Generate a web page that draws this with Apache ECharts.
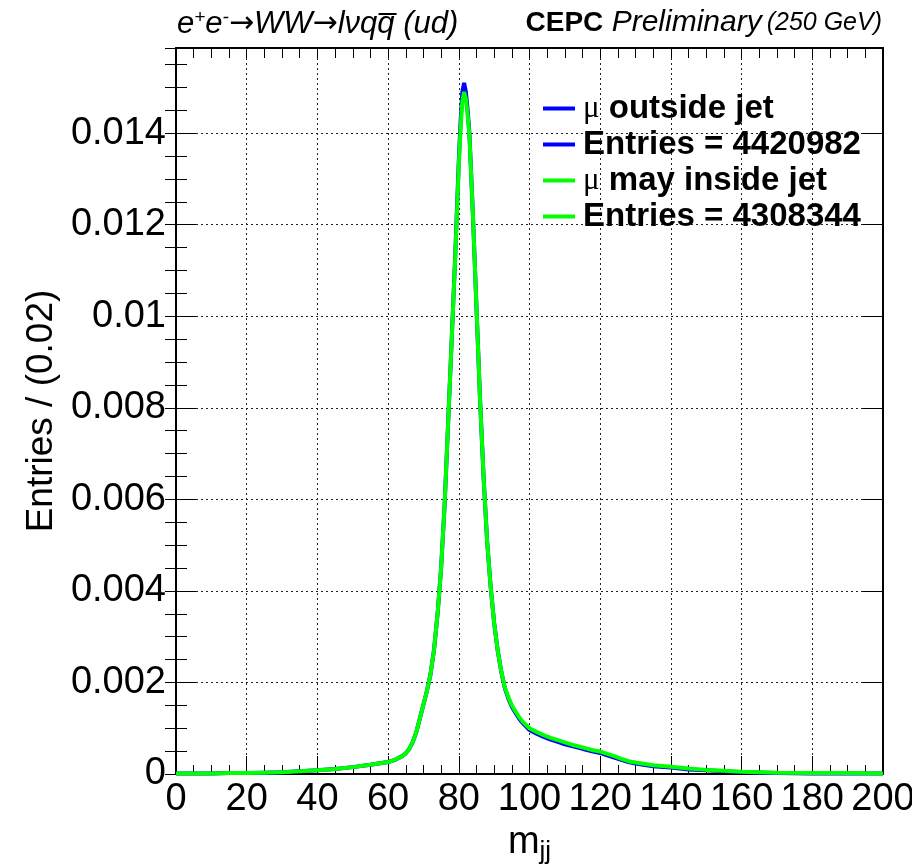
<!DOCTYPE html>
<html>
<head>
<meta charset="utf-8">
<script src="https://cdn.jsdelivr.net/npm/echarts@6/dist/echarts.min.js"></script>
<style>
html,body{margin:0;padding:0;background:#fff;}
#chart{width:912px;height:867px;}
</style>
</head>
<body>
<div id="chart"></div>
<script>
// m_jj bin positions (GeV)
var massX = [0,5,10,15,20,25,30,35,40,45,50,55,60,62,64,65,66,67,68,69,70,71,72,73,74,75,76,77,78,79,80,80.5,81,81.5,82,82.5,83,84,85,86,87,88,89,90,91,92,93,94,95,96,97,98,100,102,104,106,108,110,112,114,116,118,120,122,124,126,128,130,135,140,145,150,155,160,170,180,190,200];
// mu outside jet (blue)
var outsideJet = [0.00001,0.00001,0.00001,0.00002,0.00002,0.00003,0.00004,0.00006,0.00008,0.00011,0.00015,0.00020,0.00026,0.00031,0.00039,0.00045,0.00055,0.00070,0.00092,0.00122,0.00152,0.00182,0.00218,0.00272,0.00350,0.00450,0.00590,0.00770,0.00950,0.01135,0.01340,0.01425,0.01490,0.01510,0.01490,0.01450,0.01400,0.01220,0.01020,0.00820,0.00650,0.00510,0.00410,0.00330,0.00270,0.00224,0.00188,0.00165,0.00147,0.00134,0.00122,0.00112,0.00096,0.00088,0.00081,0.00075,0.00070,0.00065,0.00061,0.00057,0.00053,0.00049,0.00046,0.00041,0.00036,0.00031,0.00026,0.00023,0.00017,0.00014,0.00010,0.00008,0.00006,0.00004,0.00002,0.00001,0.00001,0.00001];
// mu may inside jet (green)
var mayInsideJet = [0.00001,0.00001,0.00001,0.00002,0.00002,0.00003,0.00004,0.00006,0.00008,0.00011,0.00015,0.00020,0.00026,0.00031,0.00039,0.00045,0.00055,0.00070,0.00092,0.00122,0.00152,0.00182,0.00218,0.00272,0.00350,0.00450,0.00590,0.00770,0.00950,0.01130,0.01330,0.01410,0.01470,0.01490,0.01475,0.01440,0.01395,0.01220,0.01020,0.00820,0.00650,0.00510,0.00410,0.00330,0.00270,0.00225,0.00190,0.00168,0.00150,0.00137,0.00125,0.00115,0.00100,0.00092,0.00085,0.00079,0.00074,0.00069,0.00064,0.00060,0.00056,0.00052,0.00049,0.00044,0.00039,0.00033,0.00028,0.00025,0.00019,0.00016,0.00012,0.00009,0.00007,0.00005,0.00003,0.00002,0.00002,0.00001];
var legendNames = ['\u03bc outside jet', 'Entries = 4420982', '\u03bc may inside jet', 'Entries = 4308344'];
var xTickValues = [0,20,40,60,80,100,120,140,160,180,200];
var yTickValues = [0,0.002,0.004,0.006,0.008,0.01,0.012,0.014];

var FONT = 'Liberation Sans';
var X_MIN = 0, X_MAX = 200, Y_MIN = 0, Y_MAX = 0.01586;

function pairs(xs, ys){ return xs.map(function(x,i){ return [x, ys[i]]; }); }
function yLabel(v){
  var r = Math.round(v / 0.002);
  if (Math.abs(v - r*0.002) > 1e-9) return '';
  return r === 0 ? '0' : String(+(r*0.002).toFixed(3));
}

var chart = echarts.init(document.getElementById('chart'), null, {renderer:'canvas'});

var baseY = function(extra){
  return Object.assign({
    type:'value', min:Y_MIN, max:Y_MAX, gridIndex:0,
    axisLine:{show:false}, axisLabel:{show:false}, splitLine:{show:false},
    axisTick:{show:true, inside:true, length:11, lineStyle:{color:'#000', width:1}}
  }, extra);
};

chart.setOption({
  animation:false,
  backgroundColor:'#fff',
  title:[
    {left:172, top:3, text:'{i|e}{s|+}{i|e}{s|-}{a|\u2192}{i|WW}{a|\u2192}{i|l\u03bdq}{i|q\u0305 (ud)}',
     textStyle:{fontWeight:'normal', rich:{
       i:{fontFamily:FONT, fontStyle:'italic', fontWeight:'normal', fontSize:31, color:'#000'},
       a:{fontFamily:'DejaVu Sans', fontWeight:'normal', fontSize:30, color:'#000'},
       s:{fontFamily:FONT, fontStyle:'italic', fontWeight:'normal', fontSize:19, color:'#000', verticalAlign:'top', padding:[0,0,14,0]}
     }}},
    {right:25, top:3, text:'{b|CEPC}{i| Preliminary} {s|(250 GeV)}',
     textStyle:{fontWeight:'normal', rich:{
       b:{fontFamily:FONT, fontWeight:'bold', fontSize:28, color:'#000'},
       i:{fontFamily:FONT, fontStyle:'italic', fontWeight:'normal', fontSize:30, color:'#000'},
       s:{fontFamily:FONT, fontStyle:'italic', fontWeight:'normal', fontSize:25, color:'#000'}
     }}}
  ],
  legend:{
    orient:'vertical', left:538, top:87, padding:5,
    itemWidth:32, itemHeight:4, itemGap:3, icon:'rect',
    data:legendNames,
    selectedMode:false,
    formatter:function(n){ return n.indexOf('\u03bc') === 0 ? '{mu|\u03bc}' + n.slice(1) : n; },
    textStyle:{fontFamily:FONT, fontWeight:'bold', fontSize:33, color:'#000', lineHeight:33, padding:[0,0,0,3],
      rich:{mu:{fontFamily:'Liberation Serif', fontWeight:'normal', fontSize:31, color:'#000'}}}
  },
  grid:{left:176, right:29, top:48, bottom:93, containLabel:false, outerBoundsMode:'none'},
  xAxis:[
    {type:'value', min:X_MIN, max:X_MAX, interval:20, position:'bottom',
     axisLine:{show:true, onZero:false, lineStyle:{color:'#000', width:2}},
     axisTick:{show:true, inside:true, length:18, lineStyle:{color:'#000', width:1}},
     minorTick:{show:true, splitNumber:4, length:9, lineStyle:{color:'#000', width:1}},
     splitLine:{show:true, lineStyle:{color:'#222', width:1, type:[2,3]}},
     axisLabel:{show:true, margin:7, fontFamily:FONT, fontSize:38, color:'#000', showMaxLabel:true, showMinLabel:true,
       formatter:function(v){ return xTickValues.indexOf(v) >= 0 ? String(v) : ''; }},
     name:'{m|m}{sub|jj}', nameLocation:'middle', nameGap:44,
     nameTextStyle:{rich:{
       m:{fontFamily:FONT, fontSize:38, color:'#000'},
       sub:{fontFamily:FONT, fontSize:26, color:'#000', verticalAlign:'bottom', padding:[18,0,0,0]}
     }}},
    {type:'value', min:X_MIN, max:X_MAX, interval:20, position:'top',
     axisLine:{show:true, onZero:false, lineStyle:{color:'#000', width:2}},
     axisTick:{show:true, inside:true, length:10, lineStyle:{color:'#000', width:1}},
     minorTick:{show:true, splitNumber:4, length:10, lineStyle:{color:'#000', width:1}},
     splitLine:{show:false}, axisLabel:{show:false}}
  ],
  yAxis:[
    {type:'value', min:Y_MIN, max:Y_MAX, interval:0.002, position:'left',
     axisLine:{show:true, onZero:false, lineStyle:{color:'#000', width:2}},
     axisTick:{show:true, inside:true, length:20, lineStyle:{color:'#000', width:1}},
     splitLine:{show:true, lineStyle:{color:'#222', width:1, type:[2,3]}},
     axisLabel:{show:true, margin:10, fontFamily:FONT, fontSize:38, color:'#000', formatter:yLabel},
     name:'Entries / (0.02)', nameLocation:'middle', nameRotate:90, nameGap:116,
     nameTextStyle:{fontFamily:FONT, fontSize:37, color:'#000'}},
    baseY({interval:0.0005, position:'left'}),
    {type:'value', min:Y_MIN, max:Y_MAX, interval:0.002, position:'right',
     axisLine:{show:true, onZero:false, lineStyle:{color:'#000', width:2}},
     axisTick:{show:true, inside:true, length:20, lineStyle:{color:'#000', width:1}},
     splitLine:{show:false}, axisLabel:{show:false}},
    baseY({interval:0.0005, position:'right'})
  ],
  series:[
    {name:legendNames[0], type:'line', xAxisIndex:0, yAxisIndex:0, data:pairs(massX, outsideJet),
     showSymbol:false, symbol:'none', color:'#0000ff', lineStyle:{color:'#0000ff', width:4}, z:3},
    {name:legendNames[1], type:'line', xAxisIndex:0, yAxisIndex:0, data:[], symbol:'none', color:'#0000ff', lineStyle:{color:'#0000ff', width:4}},
    {name:legendNames[2], type:'line', xAxisIndex:0, yAxisIndex:0, data:pairs(massX, mayInsideJet),
     showSymbol:false, symbol:'none', color:'#00ff00', lineStyle:{color:'#00ff00', width:4}, z:4},
    {name:legendNames[3], type:'line', xAxisIndex:0, yAxisIndex:0, data:[], symbol:'none', color:'#00ff00', lineStyle:{color:'#00ff00', width:4}}
  ]
});
</script>
</body>
</html>
